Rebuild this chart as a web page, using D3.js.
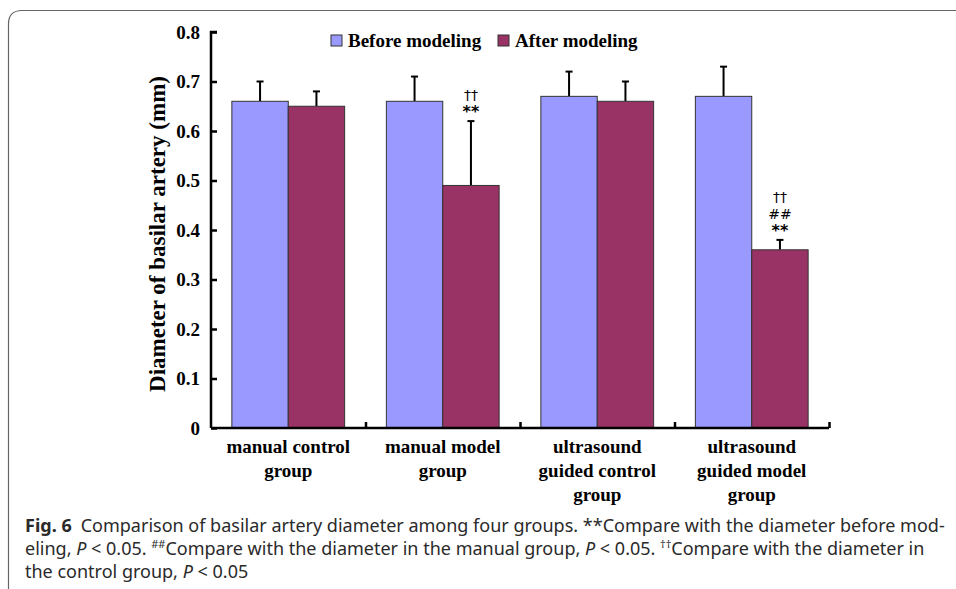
<!DOCTYPE html>
<html>
<head>
<meta charset="utf-8">
<script src="https://cdn.jsdelivr.net/npm/d3@7"></script>
<style>
  body { margin: 0; background: #fff; }
  svg { display: block; }
</style>
</head>
<body>
<div id="chart"></div>
<script>
// chart data
const groups = [
  ["manual control", "group"],
  ["manual model", "group"],
  ["ultrasound", "guided control", "group"],
  ["ultrasound", "guided model", "group"]
];
const seriesNames = ["Before modeling", "After modeling"];
const beforeVals = [0.66, 0.66, 0.67, 0.67];
const beforeErr = [0.04, 0.05, 0.05, 0.06];
const afterVals = [0.65, 0.49, 0.66, 0.36];
const afterErr = [0.03, 0.13, 0.04, 0.02];
const afterMarks = [[], ["††", "**"], [], ["††", "##", "**"]];
const yTicks = [0, 0.1, 0.2, 0.3, 0.4, 0.5, 0.6, 0.7, 0.8];
const colors = ["#9999ff", "#993366"];

window.onload = () => {
  const width = 956, height = 589;
  const svg = d3.select("#chart").append("svg")
    .attr("width", width).attr("height", height);

  // frame around figure (cut off at right and bottom)
  svg.append("path")
    .attr("d", "M8.5,600 L8.5,24 Q8.5,10.5 22,10.5 L970,10.5")
    .attr("fill", "none").attr("stroke", "#666").attr("stroke-width", 1.2);

  const serif = "'Liberation Serif', 'Times New Roman', serif";
  const x0 = d3.scaleBand().domain(d3.range(groups.length)).range([211, 829]).paddingInner(0).paddingOuter(0);
  const x1 = d3.scaleBand().domain([0, 1]).range([0, x0.bandwidth()]).paddingOuter(0.37).paddingInner(0);
  const y = d3.scaleLinear().domain([0, 0.8]).range([428, 32]);

  // bars
  const series = [
    { vals: beforeVals, err: beforeErr },
    { vals: afterVals, err: afterErr }
  ];
  series.forEach((s, si) => {
    const g = svg.append("g");
    s.vals.forEach((v, i) => {
      const bx = x0(i) + x1(si);
      const cx = bx + x1.bandwidth() / 2;
      // error bar
      g.append("line")
        .attr("x1", cx).attr("x2", cx)
        .attr("y1", y(v)).attr("y2", y(v + s.err[i]))
        .attr("stroke", "#000").attr("stroke-width", 2);
      g.append("line")
        .attr("x1", cx - 3.5).attr("x2", cx + 3.5)
        .attr("y1", y(v + s.err[i])).attr("y2", y(v + s.err[i]))
        .attr("stroke", "#000").attr("stroke-width", 2);
      g.append("rect")
        .attr("x", bx).attr("y", y(v))
        .attr("width", x1.bandwidth()).attr("height", y(0) - y(v))
        .attr("fill", colors[si]).attr("stroke", "#333").attr("stroke-width", 1);
    });
  });

  // significance marks above the after-modeling bars
  afterMarks.forEach((marks, i) => {
    if (!marks.length) return;
    const cx = x0(i) + x1(1) + x1.bandwidth() / 2;
    const top = y(afterVals[i] + afterErr[i]);
    marks.slice().reverse().forEach((m, k) => {
      svg.append("text")
        .attr("x", cx).attr("y", top - 4 - k * 17)
        .attr("text-anchor", "middle")
        .attr("font-family", "'DejaVu Sans', sans-serif")
        .attr("font-size", m === "**" ? 16 : 14)
        .attr("font-weight", m === "**" ? "bold" : "normal")
        .text(m);
    });
  });

  // y axis (ticks point inward)
  const yAxis = svg.append("g").attr("transform", "translate(211,0)")
    .call(d3.axisRight(y).tickValues(yTicks).tickSize(6).tickFormat(d => d === 0 ? "0" : d3.format(".1f")(d)));
  yAxis.select(".domain").attr("d", "M6,32H0V428").attr("stroke-width", 2.5);
  yAxis.selectAll(".tick line").attr("stroke-width", 2.5);
  yAxis.selectAll(".tick text")
    .attr("x", -11).attr("text-anchor", "end")
    .attr("font-family", serif).attr("font-size", 19).attr("font-weight", "bold")
    .attr("fill", "#000");

  // x axis (ticks at group boundaries, pointing up)
  const xb = d3.scaleLinear().domain([0, groups.length]).range([211, 829]);
  const xAxis = svg.append("g").attr("transform", "translate(0,428)")
    .call(d3.axisTop(xb).tickValues(d3.range(1, groups.length + 1)).tickSize(6).tickFormat(""));
  xAxis.select(".domain").attr("d", "M211,0H829").attr("stroke-width", 2.5);
  xAxis.selectAll(".tick line").attr("stroke-width", 2.5);

  // category labels
  groups.forEach((lines, i) => {
    const t = svg.append("text")
      .attr("x", x0(i) + x0.bandwidth() / 2).attr("y", 453)
      .attr("text-anchor", "middle")
      .attr("font-family", serif).attr("font-size", 19).attr("font-weight", "bold");
    lines.forEach((l, k) => {
      t.append("tspan").attr("x", x0(i) + x0.bandwidth() / 2).attr("dy", k ? 24 : 0).text(l);
    });
  });

  // y axis title
  svg.append("text")
    .attr("transform", "translate(165,234) rotate(-90)")
    .attr("text-anchor", "middle")
    .attr("font-family", serif).attr("font-size", 23).attr("font-weight", "bold")
    .text("Diameter of basilar artery (mm)");

  // legend
  const legX = [331, 498];
  seriesNames.forEach((n, i) => {
    svg.append("rect")
      .attr("x", legX[i]).attr("y", 35).attr("width", 11).attr("height", 11)
      .attr("fill", colors[i]).attr("stroke", "#333").attr("stroke-width", 1);
    svg.append("text")
      .attr("x", legX[i] + 17).attr("y", 47)
      .attr("font-family", serif).attr("font-size", 19).attr("font-weight", "bold")
      .text(n);
  });

  // caption
  const cap = svg.append("text")
    .attr("font-family", "'Noto Sans', 'Open Sans', sans-serif")
    .attr("font-size", 18).attr("fill", "#2a2a2a");
  const line1 = cap.append("tspan").attr("x", 25).attr("y", 532);
  line1.append("tspan").attr("font-weight", "bold").text("Fig. 6");
  line1.append("tspan").text("\u2002Comparison of basilar artery diameter among four groups. **Compare with the diameter before mod-");
  const line2 = cap.append("tspan").attr("x", 25).attr("y", 555);
  line2.append("tspan").text("eling, ");
  line2.append("tspan").attr("font-style", "italic").text("P");
  line2.append("tspan").text(" < 0.05. ");
  line2.append("tspan").attr("font-size", 11).attr("dy", -7).text("##");
  line2.append("tspan").attr("dy", 7).text("Compare with the diameter in the manual group, ");
  line2.append("tspan").attr("font-style", "italic").text("P");
  line2.append("tspan").text(" < 0.05. ");
  line2.append("tspan").attr("font-size", 11).attr("dy", -7).text("††");
  line2.append("tspan").attr("dy", 7).text("Compare with the diameter in");
  const line3 = cap.append("tspan").attr("x", 25).attr("y", 578);
  line3.append("tspan").text("the control group, ");
  line3.append("tspan").attr("font-style", "italic").text("P");
  line3.append("tspan").text(" < 0.05");
};
</script>
</body>
</html>
